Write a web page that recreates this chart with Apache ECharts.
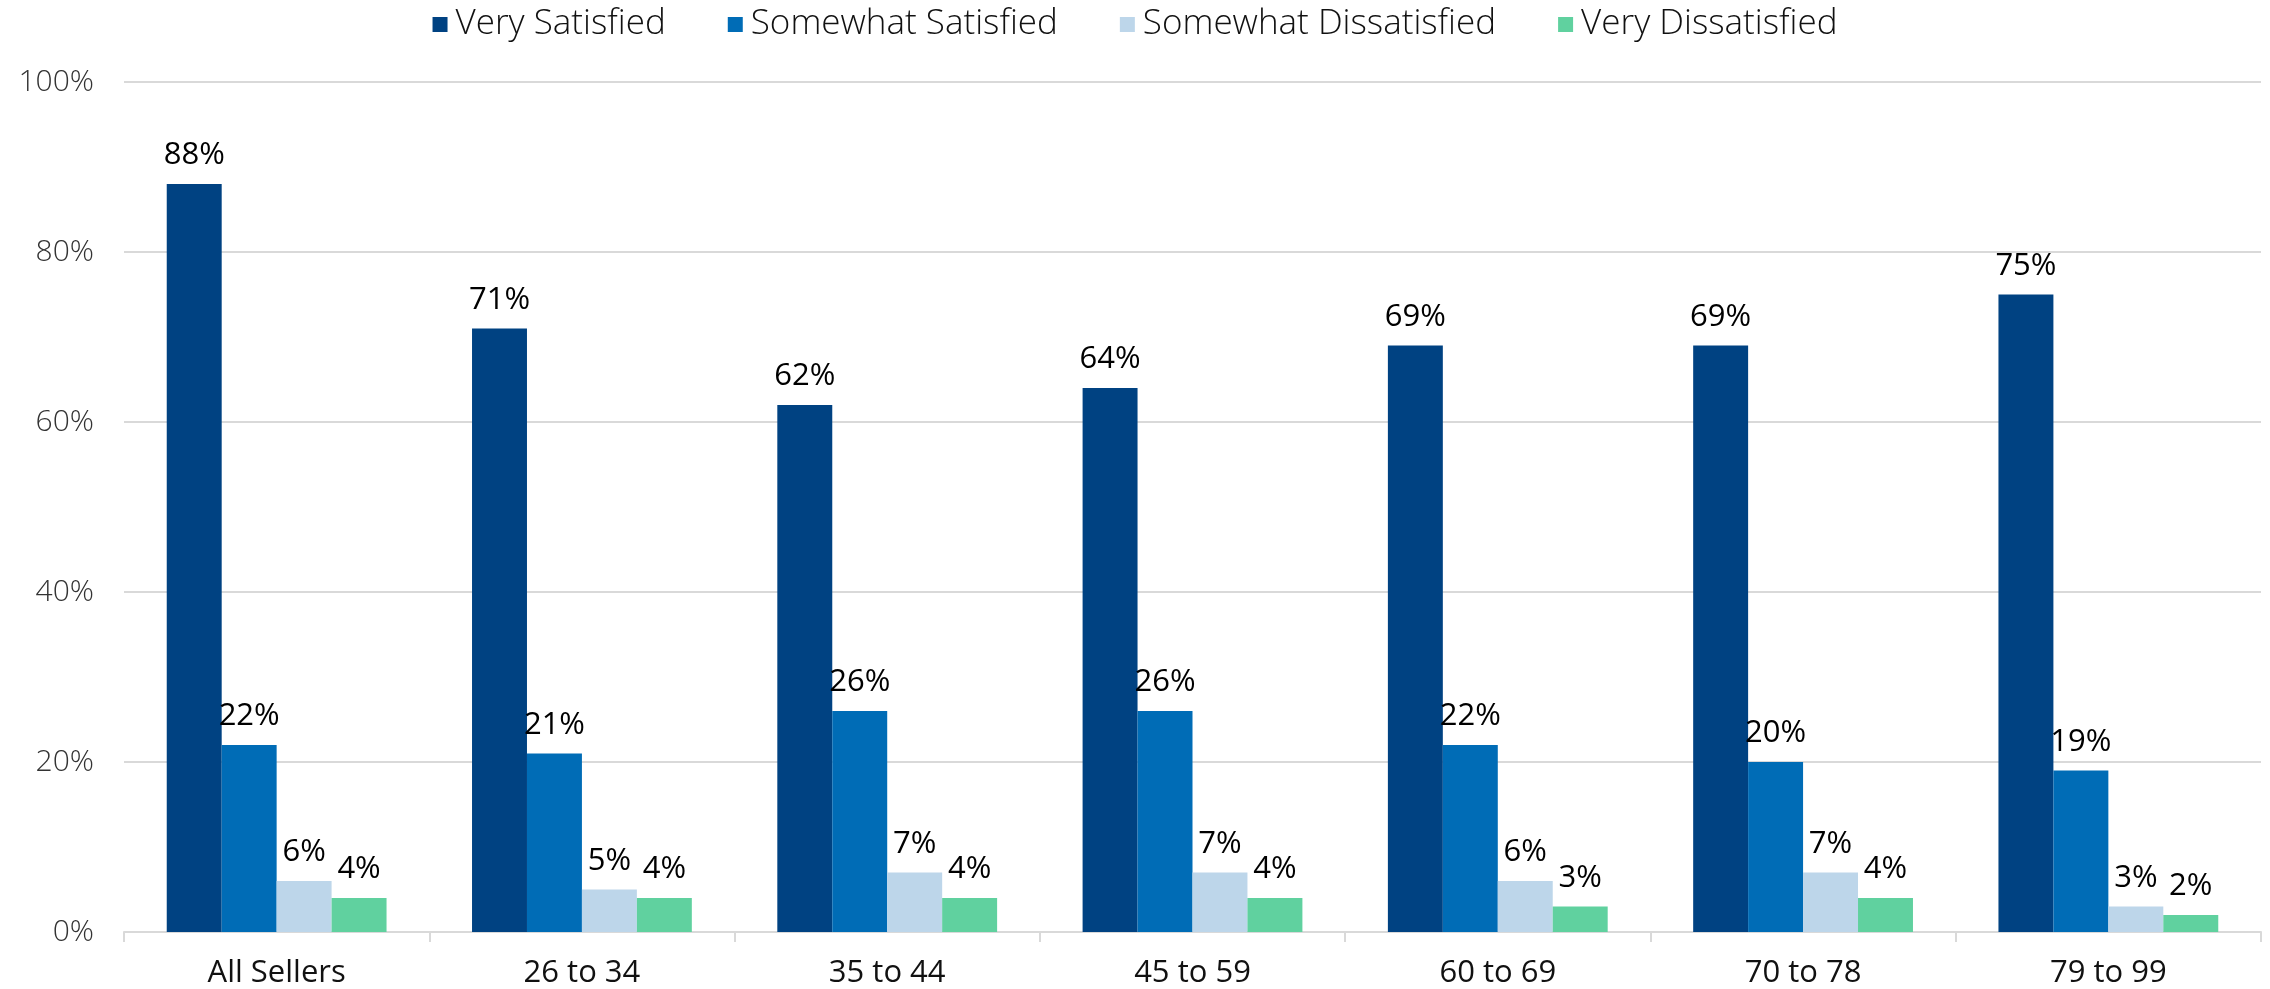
<!DOCTYPE html>
<html><head><meta charset="utf-8">
<script src="https://cdn.jsdelivr.net/npm/echarts@6/dist/echarts.min.js"></script>
<style>html,body{margin:0;padding:0;background:#fff}#c{width:2270px;height:989px}</style>
</head><body><div id="c"></div>
<script>
const categories = ['All Sellers','26 to 34','35 to 44','45 to 59','60 to 69','70 to 78','79 to 99'];
const seriesNames = ['Very Satisfied','Somewhat Satisfied','Somewhat Dissatisfied','Very Dissatisfied'];
const verySatisfied = [88,71,62,64,69,69,75];
const somewhatSatisfied = [22,21,26,26,22,20,19];
const somewhatDissatisfied = [6,5,7,7,6,7,3];
const veryDissatisfied = [4,4,4,4,3,4,2];
const yTicks = [0,20,40,60,80,100];
const colors = ['#004282','#006CB6','#BDD6EA','#60D19F'];
const values = [verySatisfied, somewhatSatisfied, somewhatDissatisfied, veryDissatisfied];
const font = '"Open Sans", Lato, sans-serif';
const chart = echarts.init(document.getElementById('c'));
chart.setOption({
  animation:false,
  color: colors,
  legend:{
    top:2, left:'center', itemWidth:15, itemHeight:15, itemGap:62, icon:'rect',
    textStyle:{fontFamily:font, fontWeight:300, fontSize:35, color:'#111', padding:[0,0,0,3]}
  },
  grid:{left:124, right:9, top:82, bottom:55, containLabel:false},
  xAxis:{
    type:'category', data:categories,
    axisLine:{lineStyle:{color:'#d9d9d9', width:2}},
    axisTick:{show:true, length:10, lineStyle:{color:'#d9d9d9', width:2}},
    axisLabel:{fontFamily:font, fontSize:31, color:'#111', margin:26}
  },
  yAxis:{
    type:'value', min:yTicks[0], max:yTicks[yTicks.length-1], interval:20,
    axisLine:{show:false}, axisTick:{show:false},
    splitLine:{lineStyle:{color:'#d9d9d9', width:2}},
    axisLabel:{fontFamily:font, fontWeight:300, fontSize:30, color:'#333', margin:30, formatter:'{value}%'}
  },
  series: seriesNames.map((n,i)=>({
    name:n, type:'bar', data:values[i], barGap:'0%', barCategoryGap:'28%',
    itemStyle:{color:colors[i]},
    label:{show:true, position:'top', distance:13, fontFamily:font, fontSize:31, color:'#000', formatter:'{c}%'}
  }))
});
</script></body></html>
